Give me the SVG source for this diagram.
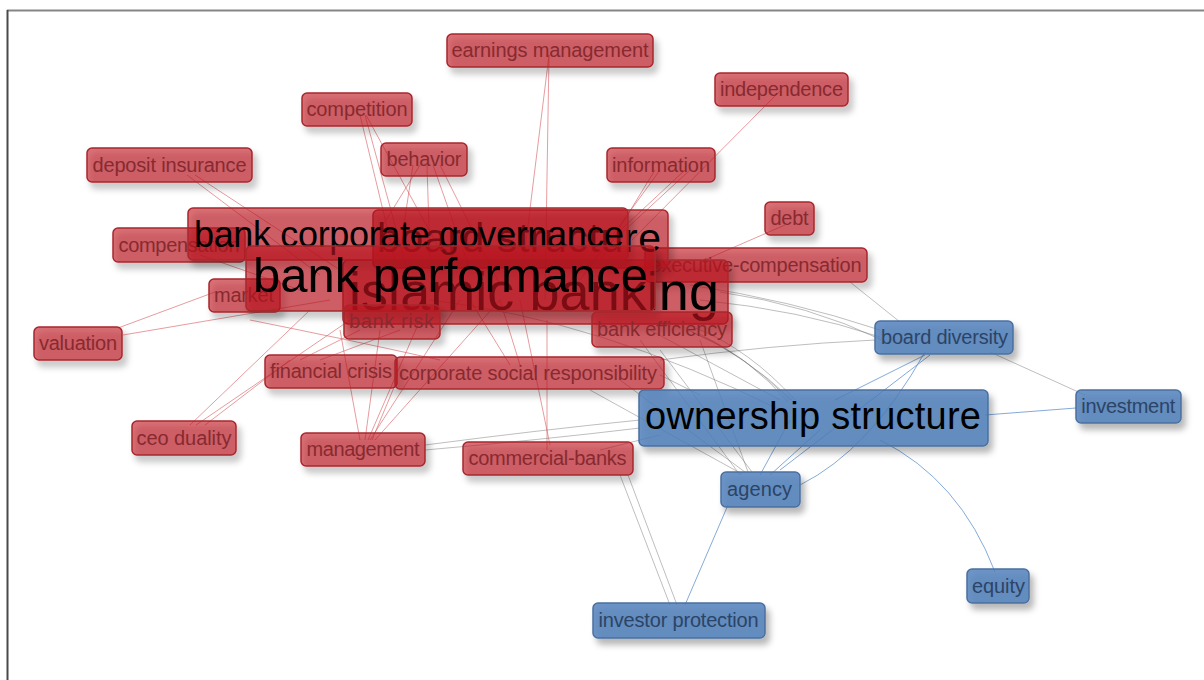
<svg xmlns="http://www.w3.org/2000/svg" width="1204" height="680" viewBox="0 0 1204 680">
<defs>
<filter id="sh" x="-20%" y="-40%" width="150%" height="200%"><feDropShadow dx="4" dy="6" stdDeviation="3" flood-color="#000" flood-opacity="0.33"/></filter>
<style>
.r rect{fill:rgb(192,22,30);fill-opacity:0.6;stroke:#a8262e;stroke-width:1.5;filter:url(#sh)}
.b rect{fill:rgb(80,128,186);fill-opacity:0.83;stroke:#4a70a0;stroke-width:1.5;filter:url(#sh)}
text{font-family:"Liberation Sans",Arial,sans-serif;text-anchor:middle}
.r text{fill:#872a30;font-size:20px}
.b text{fill:#2c4466;font-size:20px}
.big text{fill:#000}
.er path{stroke:rgb(215,90,95);stroke-opacity:0.6;stroke-width:1;fill:none}
.eg path{stroke:rgb(110,110,110);stroke-opacity:0.45;stroke-width:1;fill:none}
.eb path{stroke:rgb(110,155,210);stroke-opacity:0.85;stroke-width:1;fill:none}
</style>
</defs>
<rect width="1204" height="680" fill="#fff"/>
<line x1="7" y1="10.5" x2="1204" y2="10.5" stroke="#858585" stroke-width="2"/>
<line x1="7.5" y1="10" x2="7.5" y2="680" stroke="#4a4a4a" stroke-width="2"/>
<g id="connectors">
<g class="er">
<path d="M549 55 L520 290"/><path d="M549 55 L545 300"/>
<path d="M781 90 L632 240"/>
<path d="M655 170 L600 260"/><path d="M660 170 L580 280"/><path d="M685 170 L610 240"/><path d="M690 170 L560 290"/>
<path d="M413 165 L400 250"/><path d="M427 165 L430 260"/><path d="M433 165 L470 270"/><path d="M440 165 L500 285"/><path d="M420 165 L380 230"/>
<path d="M360 115 L395 260"/><path d="M365 115 L410 280"/><path d="M366 115 L440 250"/>
<path d="M187 175 L320 275"/><path d="M195 175 L340 270"/>
<path d="M200 255 L300 290"/>
<path d="M118 328 L215 292"/><path d="M123 335 L330 300"/>
<path d="M190 425 L310 310"/><path d="M196 425 L350 320"/><path d="M205 425 L290 360"/>
<path d="M360 440 L340 330"/><path d="M365 440 L380 330"/><path d="M368 440 L420 320"/><path d="M370 440 L460 300"/><path d="M372 440 L395 385"/><path d="M375 440 L500 300"/>
<path d="M300 360 L360 330"/><path d="M320 360 L400 330"/>
<path d="M547 450 L547 320"/><path d="M550 445 L520 300"/>
<path d="M510 365 L470 300"/><path d="M520 365 L500 300"/>
<path d="M785 225 L700 262"/>
<path d="M250 320 Q350 340 440 360"/>
</g>
<g class="eg">
<path d="M688 330 Q740 350 790 400" stroke-width="2"/><path d="M692 332 Q745 355 792 400" stroke-width="2"/><path d="M696 328 Q750 350 795 400" stroke-width="2"/><path d="M700 334 Q752 360 788 402" stroke-width="2"/>
<path d="M690 285 Q790 300 880 330"/><path d="M700 300 Q800 310 880 337"/><path d="M720 292 Q810 305 882 340"/>
<path d="M850 282 L900 322"/>
<path d="M650 330 L780 400"/><path d="M660 375 L700 395"/>
<path d="M425 445 Q540 430 640 420"/><path d="M425 450 Q540 440 640 428"/>
<path d="M600 450 L660 435"/>
<path d="M620 475 L670 605"/><path d="M628 475 L677 605"/>
<path d="M620 380 L745 472"/><path d="M590 390 L742 474"/><path d="M700 340 L748 472"/><path d="M660 350 L752 472"/><path d="M640 340 L740 475"/>
<path d="M660 360 Q770 345 875 340"/>
<path d="M990 352 L1085 395"/>
<path d="M430 300 Q600 320 780 410"/>
</g>
<g class="eb">
<path d="M985 415 L1076 408"/>
<path d="M880 440 Q960 480 995 572"/>
<path d="M728 505 L685 605"/>
<path d="M800 485 Q870 450 925 352"/>
<path d="M930 355 L780 470"/><path d="M925 355 L835 400"/>
<path d="M760 475 L790 420"/><path d="M770 475 L820 430"/>
</g>
</g>
<g id="n-earnings-management" class="r"><rect x="447" y="34" width="206" height="33" rx="5"/><text x="550" y="57" textLength="197">earnings management</text></g>
<g id="n-independence" class="r"><rect x="715" y="73" width="133" height="33" rx="5"/><text x="781.5" y="96" textLength="123">independence</text></g>
<g id="n-competition" class="r"><rect x="302" y="93" width="110" height="33" rx="5"/><text x="357" y="116" textLength="101">competition</text></g>
<g id="n-deposit-insurance" class="r"><rect x="87" y="148" width="165" height="34" rx="5"/><text x="169.5" y="172" textLength="154">deposit insurance</text></g>
<g id="n-behavior" class="r"><rect x="381" y="143" width="86" height="33" rx="5"/><text x="424" y="166" textLength="75">behavior</text></g>
<g id="n-information" class="r"><rect x="607" y="148" width="108" height="34" rx="5"/><text x="661" y="172" textLength="98">information</text></g>
<g id="n-debt" class="r"><rect x="765" y="202" width="49" height="33" rx="5"/><text x="789.5" y="225" textLength="38">debt</text></g>
<g id="n-compensation" class="r"><rect x="113" y="228" width="132" height="34" rx="5"/><text x="179" y="252" textLength="121">compensation</text></g>
<g id="n-market" class="r"><rect x="209" y="279" width="71" height="33" rx="5"/><text x="244" y="302" textLength="60">market</text></g>
<g id="n-executive-compensation" class="r"><rect x="645" y="248" width="222" height="34" rx="5"/><text x="756" y="272" textLength="211">executive-compensation</text></g>
<g id="n-board-structure" class="r big"><rect x="373" y="210" width="295" height="58" rx="5"/><text x="519" y="252" textLength="284" style="font-size:41px">board structure</text></g>
<g id="n-islamic-banking" class="r big"><rect x="343" y="260" width="385" height="64" rx="5"/><text x="534" y="310" textLength="370" style="font-size:54px">islamic banking</text></g>
<g id="n-bank-corporate-governance" class="r big"><rect x="188" y="208" width="440" height="52" rx="5"/><text x="409" y="246.5" textLength="430" style="font-size:36px">bank corporate governance</text></g>
<g id="n-bank-performance" class="r big"><rect x="246" y="246" width="409" height="65" rx="5"/><text x="450.5" y="292" textLength="395" style="font-size:49px">bank performance</text></g>
<g id="n-bank-risk" class="r"><rect x="344" y="305" width="96" height="34" rx="5"/><text x="391.5" y="328" textLength="85">bank risk</text></g>
<g id="n-bank-efficiency" class="r"><rect x="592" y="312" width="140" height="35" rx="5"/><text x="662" y="336" textLength="130">bank efficiency</text></g>
<g id="n-valuation" class="r"><rect x="34" y="327" width="88" height="33" rx="5"/><text x="78" y="350" textLength="78">valuation</text></g>
<g id="n-financial-crisis" class="r"><rect x="265" y="355" width="132" height="33" rx="5"/><text x="331" y="378" textLength="122">financial crisis</text></g>
<g id="n-corporate-social-responsibility" class="r"><rect x="395" y="357" width="269" height="32" rx="5"/><text x="528" y="380" textLength="258">corporate social responsibility</text></g>
<g id="n-ceo-duality" class="r"><rect x="132" y="421" width="104" height="34" rx="5"/><text x="184" y="445" textLength="95">ceo duality</text></g>
<g id="n-management" class="r"><rect x="301" y="433" width="124" height="33" rx="5"/><text x="363" y="456" textLength="113">management</text></g>
<g id="n-commercial-banks" class="r"><rect x="463" y="442" width="170" height="33" rx="5"/><text x="547.5" y="465" textLength="158">commercial-banks</text></g>
<g id="n-board-diversity" class="b"><rect x="875" y="321" width="138" height="33" rx="5"/><text x="944.5" y="344" textLength="127">board diversity</text></g>
<g id="n-investment" class="b"><rect x="1076" y="390" width="105" height="33" rx="5"/><text x="1128.3" y="413" textLength="94">investment</text></g>
<g id="n-ownership-structure" class="b big"><rect x="639" y="390" width="349" height="56" rx="5"/><text x="813" y="428.5" textLength="336" style="font-size:38px">ownership structure</text></g>
<g id="n-agency" class="b"><rect x="721" y="472" width="79" height="35" rx="5"/><text x="759.5" y="496" textLength="65">agency</text></g>
<g id="n-equity" class="b"><rect x="967" y="569" width="62" height="34" rx="5"/><text x="998.4" y="593" textLength="53">equity</text></g>
<g id="n-investor-protection" class="b"><rect x="593" y="603" width="172" height="35" rx="5"/><text x="678.6" y="627" textLength="160">investor protection</text></g>
</svg>
